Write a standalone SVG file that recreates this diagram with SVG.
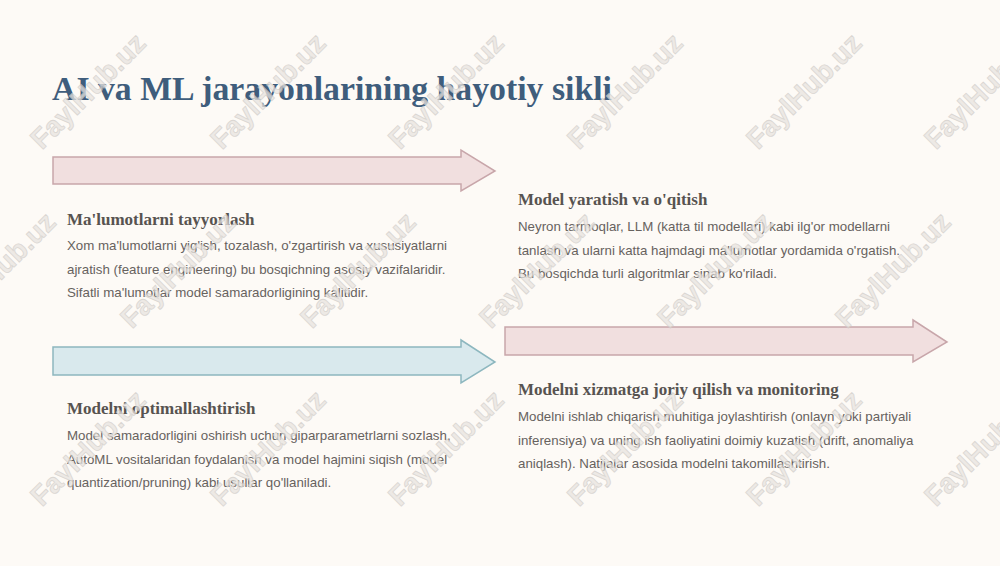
<svg xmlns="http://www.w3.org/2000/svg" width="1000" height="566" viewBox="0 0 1000 566">
<style>
.title{font-family:"Liberation Serif","DejaVu Serif",serif;font-weight:bold;font-size:33px;fill:#3f5d7c}
.h{font-family:"Liberation Serif","DejaVu Serif",serif;font-weight:bold;font-size:17px;fill:#575350}
.b{font-family:"Liberation Sans",Arial,sans-serif;font-size:13.3px;fill:#67625e}
.pink{fill:#f1dfdf;stroke:#c8a6aa;stroke-width:1.5}
.blue{fill:#d9e9ed;stroke:#8db7bf;stroke-width:1.5}
.wm{font-family:"Liberation Sans",Arial,sans-serif;font-weight:bold;font-size:28px;fill:#e8e4e0;stroke:#cfcbc7;stroke-width:0.8;opacity:0.75;text-anchor:middle;dominant-baseline:central}
</style>
<rect width="1000" height="566" fill="#fdfaf6"/>
<text class="title" x="52" y="100" textLength="560" lengthAdjust="spacingAndGlyphs">AI va ML jarayonlarining hayotiy sikli</text>
<g id="connectors">
<path class="pink" d="M53,157 L461,157 L461,150 L495,171 L461,191 L461,184 L53,184 Z"/>
<path class="blue" d="M53,347 L461,347 L461,340 L495,362 L461,383 L461,375 L53,375 Z"/>
<path class="pink" d="M505,327 L913,327 L913,320 L947,342 L913,362 L913,355 L505,355 Z"/>
</g>
<g id="node1">
<text class="h" x="67" y="225">Ma'lumotlarni tayyorlash</text>
<text class="b" x="67" y="250">Xom ma'lumotlarni yig'ish, tozalash, o'zgartirish va xususiyatlarni</text>
<text class="b" x="67" y="273.5">ajratish (feature engineering) bu bosqichning asosiy vazifalaridir.</text>
<text class="b" x="67" y="297">Sifatli ma'lumotlar model samaradorligining kalitidir.</text>
</g>
<g id="node2">
<text class="h" x="518" y="205">Model yaratish va o'qitish</text>
<text class="b" x="518" y="231">Neyron tarmoqlar, LLM (katta til modellari) kabi ilg'or modellarni</text>
<text class="b" x="518" y="254.5">tanlash va ularni katta hajmdagi ma'lumotlar yordamida o'rgatish.</text>
<text class="b" x="518" y="278">Bu bosqichda turli algoritmlar sinab ko'riladi.</text>
</g>
<g id="node3">
<text class="h" x="67" y="414">Modelni optimallashtirish</text>
<text class="b" x="67" y="440">Model samaradorligini oshirish uchun giparparametrlarni sozlash,</text>
<text class="b" x="67" y="463.5">AutoML vositalaridan foydalanish va model hajmini siqish (model</text>
<text class="b" x="67" y="487">quantization/pruning) kabi usullar qo'llaniladi.</text>
</g>
<g id="node4">
<text class="h" x="518" y="395">Modelni xizmatga joriy qilish va monitoring</text>
<text class="b" x="518" y="421">Modelni ishlab chiqarish muhitiga joylashtirish (onlayn yoki partiyali</text>
<text class="b" x="518" y="444.5">inferensiya) va uning ish faoliyatini doimiy kuzatish (drift, anomaliya</text>
<text class="b" x="518" y="468">aniqlash). Natijalar asosida modelni takomillashtirish.</text>
</g>
<g id="watermarks">
<text class="wm" transform="translate(88,91) rotate(-45)">FaylHub.uz</text>
<text class="wm" transform="translate(268,91) rotate(-45)">FaylHub.uz</text>
<text class="wm" transform="translate(446,91) rotate(-45)">FaylHub.uz</text>
<text class="wm" transform="translate(625,91) rotate(-45)">FaylHub.uz</text>
<text class="wm" transform="translate(804,91) rotate(-45)">FaylHub.uz</text>
<text class="wm" transform="translate(982,91) rotate(-45)">FaylHub.uz</text>
<text class="wm" transform="translate(-2,270) rotate(-45)">FaylHub.uz</text>
<text class="wm" transform="translate(178,270) rotate(-45)">FaylHub.uz</text>
<text class="wm" transform="translate(358,270) rotate(-45)">FaylHub.uz</text>
<text class="wm" transform="translate(537,270) rotate(-45)">FaylHub.uz</text>
<text class="wm" transform="translate(715,270) rotate(-45)">FaylHub.uz</text>
<text class="wm" transform="translate(893,270) rotate(-45)">FaylHub.uz</text>
<text class="wm" transform="translate(88,448) rotate(-45)">FaylHub.uz</text>
<text class="wm" transform="translate(268,448) rotate(-45)">FaylHub.uz</text>
<text class="wm" transform="translate(446,448) rotate(-45)">FaylHub.uz</text>
<text class="wm" transform="translate(625,448) rotate(-45)">FaylHub.uz</text>
<text class="wm" transform="translate(804,448) rotate(-45)">FaylHub.uz</text>
<text class="wm" transform="translate(982,448) rotate(-45)">FaylHub.uz</text>
</g>
</svg>
